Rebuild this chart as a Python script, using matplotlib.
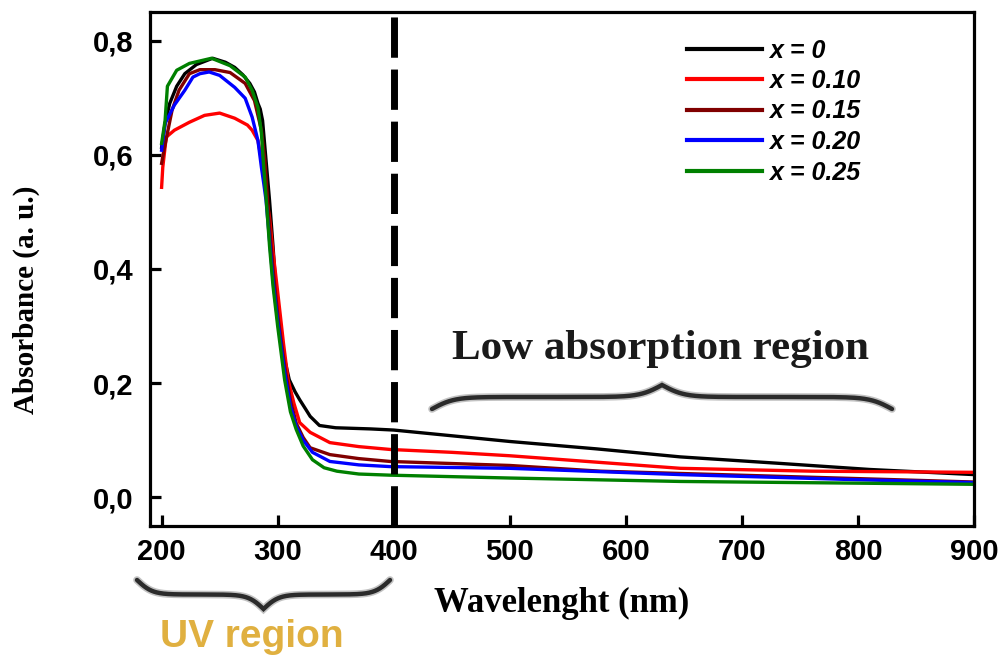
import numpy as np
import matplotlib
matplotlib.use("Agg")
import matplotlib.pyplot as plt
from matplotlib.path import Path
from matplotlib.patches import PathPatch

# ---- absorbance spectra (wavelength in nm, absorbance in a.u.) ----
wl_x000 = [200, 203, 207, 213, 220, 230, 244, 255, 263, 270, 276, 280, 283, 285, 287,
           290, 293, 296, 299, 304, 310, 315, 319, 324, 328, 336, 350, 380, 400, 450,
           500, 575, 647, 730, 810, 900]
abs_x000 = [0.613, 0.655, 0.690, 0.720, 0.742, 0.758, 0.769, 0.762, 0.753, 0.740, 0.725,
            0.710, 0.690, 0.680, 0.660, 0.590, 0.520, 0.440, 0.350, 0.260, 0.206, 0.185,
            0.171, 0.155, 0.142, 0.126, 0.122, 0.120, 0.118, 0.108, 0.098, 0.085, 0.071,
            0.060, 0.049, 0.040]

wl_x010 = [200, 201, 204, 211, 224, 237, 250, 263, 274, 278, 283, 287, 290, 293, 296,
           300, 305, 309, 314, 319, 328, 345, 370, 397, 450, 500, 600, 647, 760, 900]
abs_x010 = [0.543, 0.578, 0.631, 0.643, 0.657, 0.669, 0.673, 0.664, 0.652, 0.643, 0.625,
            0.580, 0.530, 0.490, 0.430, 0.360, 0.270, 0.206, 0.165, 0.131, 0.114, 0.096,
            0.089, 0.084, 0.079, 0.073, 0.058, 0.051, 0.046, 0.044]

wl_x015 = [200, 202, 209, 215, 224, 233, 246, 259, 272, 280, 286, 289, 292, 296, 300,
           306, 311, 316, 322, 328, 345, 370, 397, 500, 578, 647, 800, 900]
abs_x015 = [0.585, 0.608, 0.678, 0.713, 0.742, 0.749, 0.749, 0.744, 0.725, 0.695, 0.643,
            0.590, 0.500, 0.400, 0.320, 0.230, 0.170, 0.130, 0.105, 0.087, 0.075, 0.068,
            0.063, 0.056, 0.046, 0.042, 0.033, 0.027]

wl_x020 = [200, 203, 211, 220, 227, 233, 241, 250, 263, 272, 278, 283, 286, 288, 290,
           293, 296, 300, 306, 311, 316, 322, 330, 345, 370, 397, 500, 647, 800, 900]
abs_x020 = [0.608, 0.655, 0.687, 0.713, 0.736, 0.742, 0.745, 0.739, 0.718, 0.699, 0.666,
            0.625, 0.578, 0.550, 0.520, 0.450, 0.380, 0.310, 0.220, 0.160, 0.125, 0.100,
            0.079, 0.063, 0.057, 0.054, 0.051, 0.040, 0.031, 0.026]

wl_x025 = [200, 203, 205, 213, 224, 243, 259, 272, 278, 283, 286, 288, 290, 293, 296,
           300, 306, 311, 316, 322, 330, 340, 351, 370, 397, 500, 647, 800, 900]
abs_x025 = [0.620, 0.660, 0.720, 0.748, 0.760, 0.769, 0.756, 0.736, 0.713, 0.683, 0.638,
            0.578, 0.526, 0.440, 0.370, 0.300, 0.206, 0.150, 0.119, 0.090, 0.066, 0.052,
            0.046, 0.041, 0.039, 0.034, 0.028, 0.025, 0.023]

labels = ["x = 0", "x = 0.10", "x = 0.15", "x = 0.20", "x = 0.25"]
colors = ["#000000", "#ff0000", "#800000", "#0000ff", "#008000"]
series = [(wl_x000, abs_x000), (wl_x010, abs_x010), (wl_x015, abs_x015),
          (wl_x020, abs_x020), (wl_x025, abs_x025)]

x_ticks = [200, 300, 400, 500, 600, 700, 800, 900]
y_ticks = [0.0, 0.2, 0.4, 0.6, 0.8]
uv_edge = 400

W, H = 1007, 657
fig = plt.figure(figsize=(W / 100, H / 100), dpi=100)
ax = fig.add_axes([150 / W, 1 - 526 / H, 824 / W, 514 / H])

for (wl, a), lab, c in zip(series, labels, colors):
    ax.plot(wl, a, color=c, lw=2.4, label=lab)

ax.axvline(uv_edge, color="black", lw=5, dashes=(5.8, 1.7))

ax.set_xlim(190, 900)
ax.set_ylim(-0.05, 0.85)
ax.set_xticks(x_ticks)
ax.set_yticks(y_ticks)
ax.set_yticklabels([f"{v:.1f}".replace(".", ",") for v in y_ticks])

for s in ax.spines.values():
    s.set_linewidth(2.3)
ax.tick_params(direction="in", length=8, width=2.3)
ax.tick_params(axis="y", pad=12)
ax.tick_params(axis="x", pad=9)
for t in ax.get_xticklabels() + ax.get_yticklabels():
    t.set_family("Liberation Sans")
    t.set_weight("bold")
    t.set_fontsize(21)

ax.set_ylabel("Absorbance (a. u.)", family="Liberation Serif", weight="bold", fontsize=21)
ax.yaxis.set_label_coords(-0.133, 0.44)
ax.set_xlabel("Wavelenght (nm)", family="Liberation Serif", weight="bold", fontsize=25)
ax.xaxis.set_label_coords(0.5, -0.118)

leg = ax.legend(loc="upper left", bbox_to_anchor=((674 - 150) / 824, (526 - 26) / 514),
                frameon=False, borderpad=0, handlelength=3.0, handletextpad=0.3,
                labelspacing=0.26, prop={"family": "Liberation Sans", "weight": "bold",
                                         "style": "italic", "size": 18})
for ln in leg.get_lines():
    ln.set_linewidth(3)


def brace(x0, x1, y_end, height, beta, up=True):
    # horizontal curly brace in pixel units, tip in the middle
    n = 200
    xs = np.linspace(x0, x1, 2 * n + 1)
    half = xs[:n + 1]
    yh = 1 / (1 + np.exp(-beta * (half - half[0]))) + 1 / (1 + np.exp(-beta * (half - half[-1])))
    yh = (yh - yh[0]) / (yh[-1] - yh[0]) * height
    ys = np.concatenate([yh, yh[-2::-1]])
    ys = y_end - ys if up else y_end + ys
    verts = np.column_stack([xs / W, 1 - ys / H])
    return Path(verts)


for p in (brace(432, 892, 409, 24, 0.09, up=True), brace(137, 390, 580, 29, 0.13, up=False)):
    fig.patches.append(PathPatch(p, transform=fig.transFigure, fill=False,
                                 edgecolor="#9a9a9a", lw=5.5, alpha=0.6, capstyle="round"))
    fig.patches.append(PathPatch(p, transform=fig.transFigure, fill=False,
                                 edgecolor="#2b2b2b", lw=3.2, capstyle="round"))

fig.text(661 / W, 1 - 349 / H, "Low absorption region", family="Liberation Serif",
         weight="bold", fontsize=31, color="#1a1a1a", ha="center", va="center")
fig.text(252 / W, 1 - 637 / H, "UV region", family="Liberation Sans",
         weight="bold", fontsize=28, color="#e0b040", ha="center", va="center")

fig.savefig("out.png", dpi=100)
